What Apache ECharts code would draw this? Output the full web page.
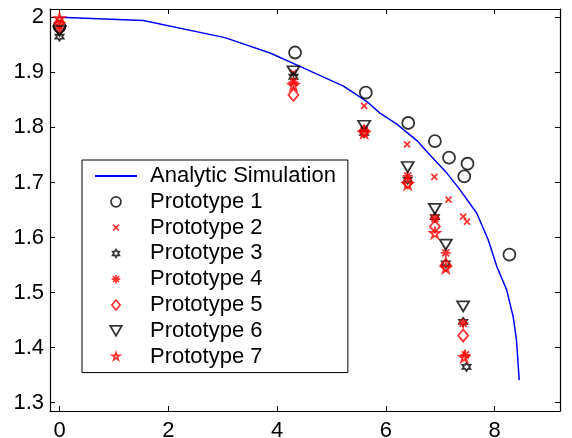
<!DOCTYPE html>
<html>
<head>
<meta charset="utf-8">
<script src="https://cdn.jsdelivr.net/npm/echarts@6/dist/echarts.min.js"></script>
<style>
  html, body { margin: 0; padding: 0; background: #fff; }
  #chart { width: 572px; height: 438px; }
</style>
</head>
<body>
<div id="chart"></div>
<script>
// Tick labels
var xTicks = [0, 2, 4, 6, 8];
var yTicks = [1.3, 1.4, 1.5, 1.6, 1.7, 1.8, 1.9, 2.0];

// Analytic simulation curve
var simulation = [
    [0, 2.0], [1.54, 1.994], [3.04, 1.963], [3.87, 1.935], [4.48, 1.908],
    [5.22, 1.875], [5.65, 1.847], [5.89, 1.826], [6.2, 1.806], [6.57, 1.776],
    [6.81, 1.750], [7.12, 1.717], [7.36, 1.687], [7.67, 1.644], [7.88, 1.596],
    [8.04, 1.547], [8.22, 1.505], [8.34, 1.456], [8.40, 1.414], [8.45, 1.341]
];

// Measured prototypes
var proto1 = [[0, 1.983], [4.33, 1.936], [5.63, 1.863], [6.41, 1.808], [6.9, 1.775],
              [7.16, 1.745], [7.5, 1.734], [7.44, 1.711], [8.27, 1.569]];
var proto2 = [[0, 1.99], [4.3, 1.899], [5.6, 1.839], [6.39, 1.769], [6.89, 1.710],
              [7.15, 1.669], [7.42, 1.638], [7.49, 1.629]];
var proto3 = [[0, 1.965], [4.3, 1.892], [5.6, 1.790], [6.4, 1.705], [6.9, 1.637],
              [7.1, 1.553], [7.42, 1.447], [7.48, 1.365]];
var proto4 = [[0, 1.98], [4.3, 1.882], [5.6, 1.795], [6.4, 1.712], [6.9, 1.635],
              [7.1, 1.572], [7.42, 1.444], [7.46, 1.387]];
var proto5 = [[0, 1.99], [4.3, 1.859], [5.6, 1.793], [6.4, 1.700], [6.9, 1.620],
              [7.1, 1.550], [7.42, 1.422]];
var proto6 = [[0, 1.975], [4.3, 1.902], [5.6, 1.803], [6.4, 1.728], [6.9, 1.652],
              [7.1, 1.587], [7.42, 1.475]];
var proto7 = [[0, 1.998], [4.3, 1.877], [5.6, 1.790], [6.4, 1.697], [6.9, 1.608],
              [7.1, 1.545], [7.44, 1.383]];

var FONT = '"Liberation Sans", Arial, sans-serif';

// MATLAB-like marker shapes (0..10 box)
var crossShape = 'M0,0L10,10M10,0L0,10';
var asteriskShape = 'M5,0L5,10M0,5L10,5M1.5,1.5L8.5,8.5M8.5,1.5L1.5,8.5';
var hexagramShape = 'M5,0L6.443,2.5L9.33,2.5L7.887,5L9.33,7.5L6.443,7.5L5,10L3.557,7.5L0.67,7.5L2.113,5L0.67,2.5L3.557,2.5Z';
var pentagramShape = 'M5,0L6.123,3.455L9.755,3.455L6.817,5.59L7.939,9.045L5,6.91L2.061,9.045L3.183,5.59L0.245,3.455L3.877,3.455Z';
var triDownShape = 'M0,0L10,0L5,8.66Z';
var diamondShape = 'M5,0L10,6L5,12L0,6Z';

// legend icons: same shapes with an invisible margin so they come out smaller
function padded(shape, p) {
    return 'path://M' + (-p) + ',' + (-p) + 'M' + (10 + p) + ',' + (10 + p) + shape;
}

function markerSeries(name, data, symbol, size, color) {
    return {
        name: name,
        type: 'scatter',
        data: data,
        symbol: symbol,
        symbolSize: size,
        itemStyle: {
            color: 'rgba(0,0,0,0)',
            borderColor: color,
            borderWidth: 1.8
        },
        emphasis: { disabled: true },
        z: 3
    };
}

var chart = echarts.init(document.getElementById('chart'));

var axisLineStyle = { show: true, onZero: false, lineStyle: { color: '#000', width: 1.2 } };
var tickStyle = { color: '#000', width: 1 };

var option = {
    animation: false,
    backgroundColor: '#fff',
    grid: { left: 50, right: 12, top: 9, bottom: 27, outerBoundsMode: 'none', containLabel: false },
    legend: {
        orient: 'vertical',
        left: 82,
        top: 160,
        backgroundColor: '#fff',
        borderColor: '#000',
        borderWidth: 1,
        padding: [5, 12, 5, 12],
        itemWidth: 42,
        itemHeight: 10,
        itemGap: 3.8,
        itemStyle: { borderWidth: 1.7 },
        textStyle: { fontFamily: FONT, fontSize: 22, color: '#000', lineHeight: 22, padding: [0, 0, 0, 8] },
        data: [
            { name: 'Analytic Simulation' },
            { name: 'Prototype 1', icon: 'circle' },
            { name: 'Prototype 2', icon: padded(crossShape, 3.5) },
            { name: 'Prototype 3', icon: padded(hexagramShape, 1.5) },
            { name: 'Prototype 4', icon: padded(asteriskShape, 0.8) },
            { name: 'Prototype 5', icon: 'path://' + diamondShape },
            { name: 'Prototype 6', icon: 'path://' + triDownShape },
            { name: 'Prototype 7', icon: padded(pentagramShape, 1.3) }
        ]
    },
    xAxis: [{
        type: 'value',
        position: 'bottom',
        min: -0.175,
        max: 9.2,
        axisLine: axisLineStyle,
        axisTick: { show: true, inside: true, length: 5, customValues: xTicks, lineStyle: tickStyle },
        axisLabel: { customValues: xTicks, margin: 9, fontFamily: FONT, fontSize: 22, color: '#000' },
        splitLine: { show: false }
    }, {
        type: 'value',
        position: 'top',
        min: -0.175,
        max: 9.2,
        axisLine: axisLineStyle,
        axisTick: { show: true, inside: true, length: 5, customValues: xTicks, lineStyle: tickStyle },
        axisLabel: { show: false },
        splitLine: { show: false }
    }],
    yAxis: [{
        type: 'value',
        position: 'left',
        min: 1.285,
        max: 2.015,
        axisLine: axisLineStyle,
        axisTick: { show: true, inside: true, length: 5, customValues: yTicks, lineStyle: tickStyle },
        axisLabel: {
            customValues: yTicks,
            margin: 6,
            fontFamily: FONT,
            fontSize: 22,
            color: '#000',
            formatter: function(v) { return Math.abs(v - 2) < 1e-9 ? '2' : v.toFixed(1); }
        },
        splitLine: { show: false }
    }, {
        type: 'value',
        position: 'right',
        min: 1.285,
        max: 2.015,
        axisLine: axisLineStyle,
        axisTick: { show: true, inside: true, length: 5, customValues: yTicks, lineStyle: tickStyle },
        axisLabel: { show: false },
        splitLine: { show: false }
    }],
    series: [
        {
            name: 'Analytic Simulation',
            type: 'line',
            data: simulation,
            symbol: 'none',
            lineStyle: { color: '#0000ff', width: 1.5 },
            itemStyle: { color: 'rgba(0,0,0,0)', borderColor: 'rgba(0,0,0,0)' },
            emphasis: { disabled: true },
            z: 2
        },
        markerSeries('Prototype 1', proto1, 'circle', 12, '#000'),
        markerSeries('Prototype 2', proto2, 'path://' + crossShape, 6, '#ff0000'),
        markerSeries('Prototype 3', proto3, 'path://' + hexagramShape, 8, '#000'),
        markerSeries('Prototype 4', proto4, 'path://' + asteriskShape, 10, '#ff0000'),
        markerSeries('Prototype 5', proto5, 'path://' + diamondShape, [10, 12], '#ff0000'),
        markerSeries('Prototype 6', proto6, 'path://' + triDownShape, [12, 10], '#000'),
        markerSeries('Prototype 7', proto7, 'path://' + pentagramShape, 10, '#ff0000')
    ]
};

chart.setOption(option);
</script>
</body>
</html>
